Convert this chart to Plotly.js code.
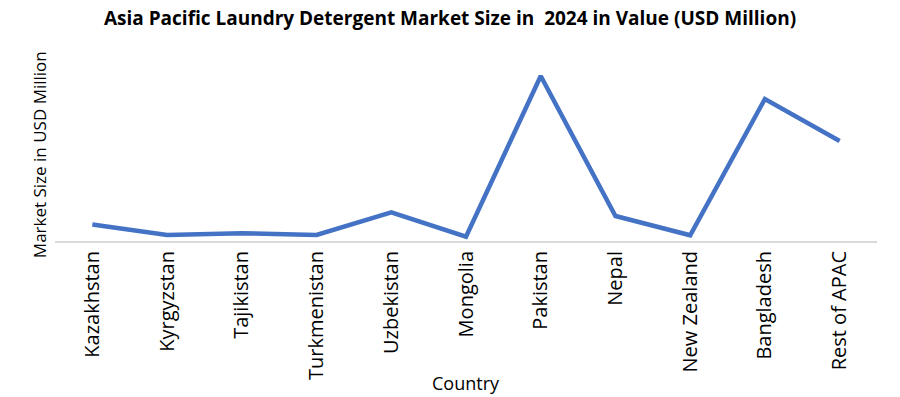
<!DOCTYPE html>
<html>
<head>
<meta charset="utf-8">
<script src="https://cdn.plot.ly/plotly-3.0.1.min.js"></script>
<style>html,body{margin:0;padding:0;background:#fff;}#chart{width:900px;height:397px;}</style>
</head>
<body>
<div id="chart"></div>
<script>
const countries = ["Kazakhstan","Kyrgyzstan","Tajikistan","Turkmenistan","Uzbekistan","Mongolia","Pakistan","Nepal","New Zealand","Bangladesh","Rest of APAC"];
const marketSize = [16.4, 6, 7.7, 6, 28.7, 4.3, 165, 25, 5.7, 142, 100];

const trace = {
  x: countries,
  y: marketSize,
  type: "scatter",
  mode: "lines",
  line: {color: "#4472C4", width: 4.5},
  hoverinfo: "x+y"
};

const layout = {
  width: 900, height: 397,
  margin: {l: 55, r: 23, t: 45, b: 156},
  paper_bgcolor: "#fff", plot_bgcolor: "#fff",
  showlegend: false,
  title: {text: "<b>Asia Pacific Laundry Detergent Market Size in  2024 in Value (USD Million)</b>", x: 0.5, xanchor: "center", y: 0.955, yanchor: "middle",
          font: {family: "Open Sans", size: 19, color: "#000"}},
  xaxis: {
    type: "category",
    range: [-0.5, 10.5],
    tickangle: -90,
    showline: true, linecolor: "#d9d9d9", linewidth: 2,
    showgrid: false, zeroline: false, ticks: "",
    tickfont: {family: "Open Sans", size: 20, color: "#000"},
    automargin: false
  },
  yaxis: {
    range: [0, 196],
    showticklabels: false, showgrid: false, zeroline: false, showline: false, ticks: "",
    automargin: false
  },
  annotations: [
    {text: "Country", xref: "paper", yref: "paper", x: 0.5, y: -0.725, xanchor: "center", yanchor: "middle",
     showarrow: false, font: {family: "Open Sans", size: 18, color: "#000"}},
    {text: "Market Size in USD Million", xref: "paper", yref: "paper", x: -0.019, y: 0.44, xanchor: "center", yanchor: "middle",
     textangle: -90, showarrow: false, font: {family: "Open Sans", size: 17, color: "#000"}}
  ]
};

Plotly.newPlot("chart", [trace], layout, {displayModeBar: false, staticPlot: true});
</script>
</body>
</html>
